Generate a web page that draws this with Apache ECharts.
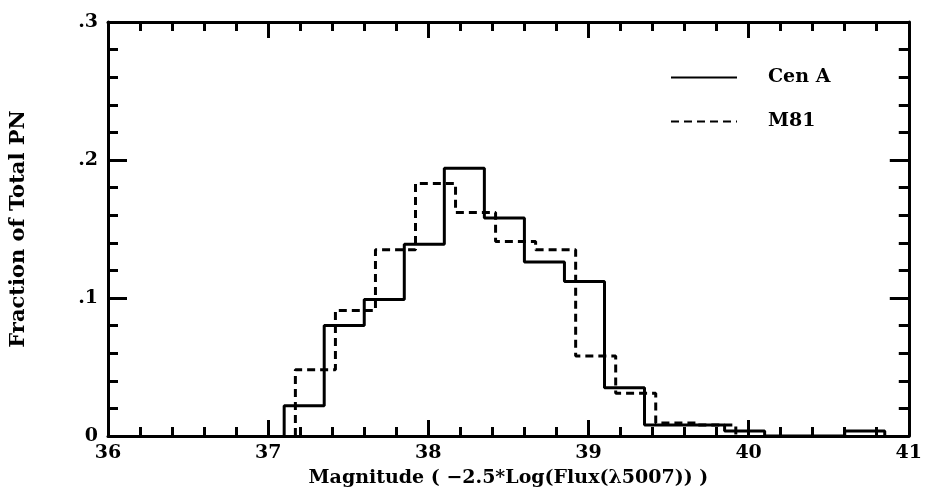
<!DOCTYPE html>
<html>
<head>
<meta charset="utf-8">
<script src="https://cdn.jsdelivr.net/npm/echarts@6/dist/echarts.min.js"></script>
<style>html,body{margin:0;padding:0;background:#fff;}#c{width:925px;height:493px;}</style>
</head>
<body>
<div id="c"></div>
<script>
// Bin left edges (magnitude) and fractions, bin width 0.25 mag
var cenAEdges = [37.10, 37.35, 37.60, 37.85, 38.10, 38.35, 38.60, 38.85, 39.10, 39.35, 39.60, 39.85, 40.10, 40.35, 40.60, 40.85];
var cenAValues = [0.022, 0.080, 0.099, 0.139, 0.194, 0.158, 0.126, 0.112, 0.035, 0.008, 0.008, 0.0036, 0, 0, 0.0036];
var m81Edges = [37.17, 37.42, 37.67, 37.92, 38.17, 38.42, 38.67, 38.92, 39.17, 39.42, 39.67, 39.92];
var m81Values = [0.048, 0.091, 0.135, 0.183, 0.162, 0.141, 0.135, 0.058, 0.031, 0.0095, 0.008];
var seriesNames = ['Cen A', 'M81'];
var xTicks = [36, 37, 38, 39, 40, 41];
var yTicks = [0, 0.1, 0.2, 0.3];
var yTickLabels = ['0', '.1', '.2', '.3'];

function stepData(edges, values) {
  var d = [[edges[0], 0]];
  for (var i = 0; i < values.length; i++) d.push([edges[i], values[i]]);
  d.push([edges[values.length], 0]);
  return d;
}

var FONT = '"DejaVu Serif", serif';
var axisLine = {show: true, onZero: false, lineStyle: {color: '#000', width: 3}};
function xAx(pos, labels) {
  return {
    type: 'value', position: pos, min: xTicks[0], max: xTicks[xTicks.length - 1], interval: 1,
    axisLine: axisLine,
    axisTick: {show: true, inside: true, length: 16, lineStyle: {color: '#000', width: 3}},
    minorTick: {show: true, splitNumber: 5, length: 9, lineStyle: {color: '#000', width: 3}},
    splitLine: {show: false}, minorSplitLine: {show: false},
    axisLabel: {show: labels, color: '#000', fontFamily: FONT, fontWeight: 'bold', fontSize: 19, margin: 8},
    name: labels ? 'Magnitude ( \u22122.5*Log(Flux(\u03bb5007)) )' : '',
    nameLocation: 'middle', nameGap: 33,
    nameTextStyle: {color: '#000', fontFamily: FONT, fontWeight: 'bold', fontSize: 19}
  };
}
function yAx(pos, labels) {
  return {
    type: 'value', position: pos, min: 0, max: 0.3, interval: 0.1,
    axisLine: axisLine,
    axisTick: {show: true, inside: true, length: 19, lineStyle: {color: '#000', width: 3}},
    minorTick: {show: true, splitNumber: 5, length: 10, lineStyle: {color: '#000', width: 3}},
    splitLine: {show: false}, minorSplitLine: {show: false},
    axisLabel: {show: labels, color: '#000', fontFamily: FONT, fontWeight: 'bold', fontSize: 19, margin: 10,
      formatter: function (v) { var i = yTicks.findIndex(function (t) { return Math.abs(t - v) < 1e-9; }); return i >= 0 ? yTickLabels[i] : ''; }},
    name: labels ? 'Fraction of Total PN' : '',
    nameLocation: 'middle', nameGap: 79,
    nameTextStyle: {color: '#000', fontFamily: FONT, fontWeight: 'bold', fontSize: 21}
  };
}

var chart = echarts.init(document.getElementById('c'));
chart.setOption({
  animation: false,
  backgroundColor: '#fff',
  grid: {left: 108, right: 10, top: 22, bottom: 57},
  xAxis: [xAx('bottom', true), xAx('top', false)],
  yAxis: [yAx('left', true), yAx('right', false)],
  legend: {
    orient: 'vertical', left: 665, top: 63, itemWidth: 66, itemHeight: 14, itemGap: 25,
    itemStyle: {opacity: 0},
    textStyle: {color: '#000', fontFamily: FONT, fontWeight: 'bold', fontSize: 19, padding: [0, 0, 0, 26]},
    data: seriesNames
  },
  series: [
    {name: seriesNames[0], type: 'line', step: 'end', symbol: 'none', data: stepData(cenAEdges, cenAValues),
     lineStyle: {color: '#000', width: 3}, itemStyle: {color: '#000'}, z: 3},
    {name: seriesNames[1], type: 'line', step: 'end', symbol: 'none', data: stepData(m81Edges, m81Values),
     lineStyle: {color: '#000', width: 3, type: [8, 5]}, itemStyle: {color: '#000'}, z: 2}
  ]
});
</script>
</body>
</html>
